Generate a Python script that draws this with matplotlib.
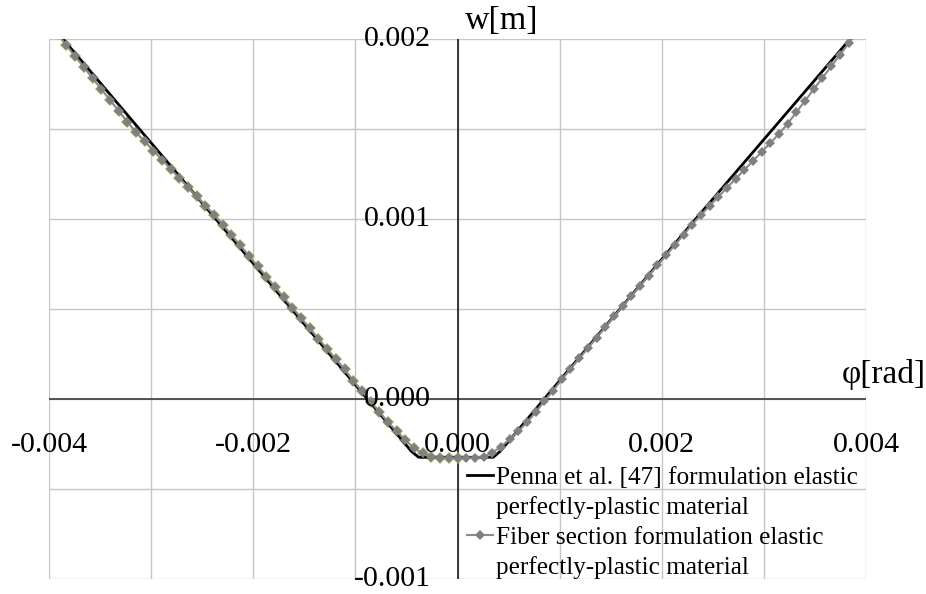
import numpy as np
import matplotlib
matplotlib.use("Agg")
import matplotlib.pyplot as plt
from matplotlib.lines import Line2D

plt.rcParams['font.family'] = ['Liberation Serif', 'DejaVu Serif']

# ---------------- data ----------------
# Penna et al. [47] formulation (black line), phi [rad], w [m]
PENNA_PHI = [-0.00400, -0.00226, -0.00045, -0.00038, 0.00035, 0.00042, 0.00231, 0.00400]
PENNA_W = [0.002093, 0.000930, -0.000290, -0.000322, -0.000322, -0.000288, 0.000987, 0.002105]

# Fiber section formulation (grey diamonds), phi in micro-rad, w in micro-m
FIBER_PHI_U = [-4000, -3915, -3830, -3745, -3660, -3574, -3489, -3404, -3319, -3234,
               -3149, -3064, -2979, -2894, -2809, -2723, -2638, -2553, -2468, -2383,
               -2298, -2213, -2128, -2043, -1957, -1872, -1787, -1702, -1617, -1532,
               -1447, -1362, -1277, -1191, -1106, -1021, -936, -851, -766, -681,
               -596, -511, -426, -340, -255, -170, -85, 0,
               85, 170, 255, 340, 426, 511, 596, 681, 766, 851,
               936, 1021, 1106, 1191, 1277, 1362, 1447, 1532, 1617, 1702,
               1787, 1872, 1957, 2043, 2128, 2213, 2298, 2383, 2468, 2553,
               2638, 2723, 2809, 2894, 2979, 3064, 3149, 3234, 3319, 3404,
               3489, 3574, 3660, 3745, 3830, 3915, 4000]
FIBER_W_U = [2089, 2028, 1967, 1906, 1846, 1785, 1724, 1663, 1603, 1542,
             1484, 1433, 1382, 1331, 1280, 1229, 1178, 1127, 1076, 1025,
             970, 912, 855, 797, 739, 682, 624, 566, 509, 452,
             394, 337, 280, 223, 166, 103, 45, -13, -69, -128,
             -176, -226, -272, -300, -322, -324, -324, -324,
             -324, -324, -319, -297, -263, -222, -176, -128, -72, -9,
             48, 110, 169, 227, 285, 343, 401, 460, 517, 574,
             631, 687, 744, 801, 857, 914, 971, 1024, 1074, 1124,
             1175, 1225, 1275, 1325, 1375, 1425, 1475, 1532, 1596, 1659,
             1723, 1786, 1850, 1914, 1977, 2041, 2104]

# third (green) series, covering the negative branch only
GREEN_PHI_U = FIBER_PHI_U[:48]
GREEN_W_U = FIBER_W_U[:48]

X_GRID = [-0.004, -0.003, -0.002, -0.001, 0.0, 0.001, 0.002, 0.003, 0.004]
Y_GRID = [-0.001, -0.0005, 0.0, 0.0005, 0.001, 0.0015, 0.002]
X_LABEL_POS = [-0.004, -0.002, 0.0, 0.002, 0.004]
X_LABELS = ["-0.004", "-0.002", "0.000", "0.002", "0.004"]
Y_LABEL_POS = [0.002, 0.001, 0.0, -0.001]
Y_LABELS = ["0.002", "0.001", "0.000", "-0.001"]

LEG1 = ["Penna et al. [47] formulation elastic", "perfectly-plastic material"]
LEG2 = ["Fiber section formulation elastic", "perfectly-plastic material"]

# ---------------- figure ----------------
W, H = 926, 594
fig = plt.figure(figsize=(W / 100, H / 100), dpi=100)
L, R, T, B = 49, 866, 39.3, 579.3
ax = fig.add_axes([L / W, 1 - B / H, (R - L) / W, (B - T) / H])

ax.set_xlim(-0.004, 0.004)
ax.set_ylim(-0.001, 0.002)
ax.set_xticks(X_GRID)
ax.set_yticks(Y_GRID)
ax.grid(True, color='#c6c6c6', linewidth=1.0)
ax.tick_params(length=0, labelbottom=False, labelleft=False)
for s in ax.spines.values():
    s.set_visible(False)
ax.set_axisbelow(True)

ax.axhline(0, color='#3a3a3a', linewidth=1.2, zorder=1.5)
ax.axvline(0, color='#1a1a1a', linewidth=1.2, zorder=1.5)

fphi = np.array(FIBER_PHI_U) * 1e-6
fw = np.array(FIBER_W_U) * 1e-6
gphi = np.array(GREEN_PHI_U) * 1e-6
gw = np.array(GREEN_W_U) * 1e-6

ax.plot(gphi, gw, color='#9bbb59', linewidth=1.0, marker='D', markersize=6.6,
        markeredgewidth=0, zorder=2)
ax.plot(PENNA_PHI, PENNA_W, color='black', linewidth=2.0, zorder=3)
ax.plot(fphi, fw, color='#8a8a8a', linewidth=1.5, marker='D', markersize=5.0,
        markerfacecolor='#808080', markeredgewidth=0, zorder=4)

fs_tick = 21.5
for x, lab in zip(X_LABEL_POS, X_LABELS):
    ax.annotate(lab, xy=(x, 0), xytext=(0, -46), textcoords='offset pixels',
                ha='center', va='center', fontsize=fs_tick, zorder=5,
                annotation_clip=False)
for y, lab in zip(Y_LABEL_POS, Y_LABELS):
    ax.annotate(lab, xy=(0, y), xytext=(-27, 0), textcoords='offset pixels',
                ha='right', va='center', fontsize=fs_tick, zorder=5,
                annotation_clip=False)

ax.annotate("w[m]", xy=(0, 0.002), xytext=(44, 19), textcoords='offset pixels',
            ha='center', va='center', fontsize=24.5, annotation_clip=False)
ax.annotate("φ[rad]", xy=(0.004, 0), xytext=(18, 25), textcoords='offset pixels',
            ha='center', va='center', fontsize=24, annotation_clip=False)

handles = [Line2D([], [], color='black', linewidth=2.0),
           Line2D([], [], color='none'),
           Line2D([], [], color='#8a8a8a', linewidth=1.5, marker='D', markersize=5.0,
                  markerfacecolor='#808080', markeredgewidth=0),
           Line2D([], [], color='none')]
labels = [LEG1[0], LEG1[1], LEG2[0], LEG2[1]]
leg = ax.legend(handles, labels, loc='upper left',
                bbox_to_anchor=(466.7 / W, 1 - 466.5 / H), bbox_transform=fig.transFigure,
                frameon=False, fontsize=18.2, handlelength=1.05, handletextpad=0.1,
                borderpad=0, borderaxespad=0, labelspacing=0.28)
leg.set_zorder(6)

fig.savefig("out.png", dpi=100)
